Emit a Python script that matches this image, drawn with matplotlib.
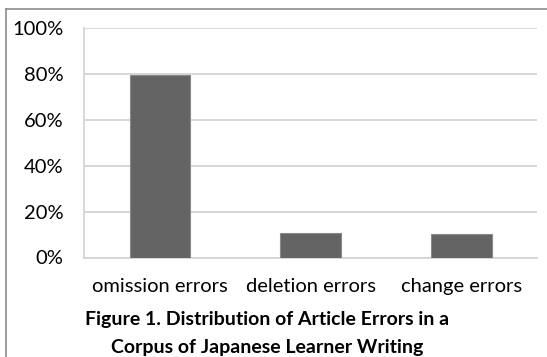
import matplotlib
matplotlib.use("Agg")
import matplotlib.pyplot as plt
from matplotlib.lines import Line2D

categories = ["omission errors", "deletion errors", "change errors"]
shares = [0.795, 0.105, 0.101]
yticks = [0, 0.2, 0.4, 0.6, 0.8, 1.0]
ytick_labels = ["0%", "20%", "40%", "60%", "80%", "100%"]

plt.rcParams["font.family"] = ["Lato", "DejaVu Sans"]

W, H = 547, 357
fig = plt.figure(figsize=(W / 100, H / 100), dpi=100)
ax = fig.add_axes([84.3 / W, 1 - 257.5 / H, (537 - 84.3) / W, (257.5 - 28) / H])

x = range(len(categories))
ax.bar(x, shares, width=0.4, color="#646464", edgecolor="#8a8a8a", linewidth=0.8, zorder=3)
ax.set_xlim(-0.5, len(categories) - 0.5)
ax.set_ylim(0, 1.0)
ax.set_yticks(yticks)
ax.set_yticklabels(ytick_labels, fontsize=14.5)
ax.set_xticks(list(x))
ax.set_xticklabels(categories, fontsize=14.5)
ax.yaxis.grid(True, color="#d4d4d4", linewidth=1.3, zorder=0)
ax.tick_params(length=0)
ax.tick_params(axis="y", pad=15)
ax.tick_params(axis="x", pad=15)
for s in ["top", "right"]:
    ax.spines[s].set_visible(False)
for s in ["left", "bottom"]:
    ax.spines[s].set_color("#d4d4d4")
    ax.spines[s].set_linewidth(1.3)

fig.text(267 / W, 1 - 319 / H, "Figure 1. Distribution of Article Errors in a",
         ha="center", va="center", fontsize=14, fontweight="bold")
fig.text(267 / W, 1 - 348 / H, "Corpus of Japanese Learner Writing",
         ha="center", va="center", fontsize=14, fontweight="bold")

# outer frame
fig.add_artist(Line2D([6 / W, 6 / W], [0, 1 - 9 / H], transform=fig.transFigure, color="#8c8c8c", linewidth=1.2))
fig.add_artist(Line2D([6 / W, 1], [1 - 9 / H, 1 - 9 / H], transform=fig.transFigure, color="#8c8c8c", linewidth=1.2))

fig.savefig("out.png", dpi=100)
